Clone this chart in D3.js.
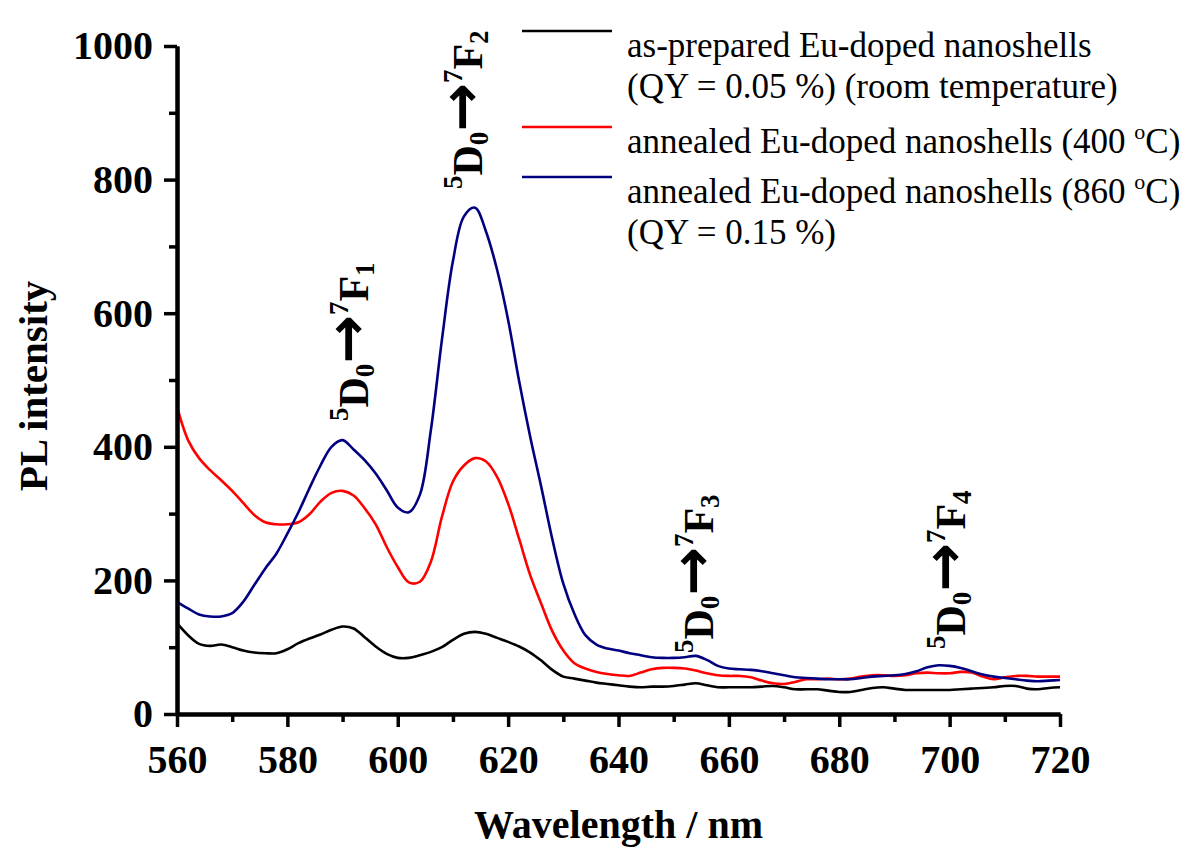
<!DOCTYPE html>
<html>
<head>
<meta charset="utf-8">
<script src="https://cdn.jsdelivr.net/npm/d3@7"></script>
<style>
  html, body { margin: 0; padding: 0; background: #fff; }
  svg { display: block; }
  text { font-family: "Liberation Serif", "Times New Roman", serif; fill: #000; }
</style>
</head>
<body>
<svg id="chart" width="1192" height="848"></svg>
<script>
// ---- data ----
const wavelengths = [560,562,564,566,568,570,572,574,576,578,580,582,584,586,588,590,592,594,596,598,
  600,602,604,606,608,610,612,614,616,618,620,622,624,626,628,630,632,634,636,638,
  640,642,644,646,648,650,652,654,656,658,660,662,664,666,668,670,672,674,676,678,
  680,682,684,686,688,690,692,694,696,698,700,702,704,706,708,710,712,714,716,718,720];

const asPrepared = [136,118,105,102,104,100,95,92,91,91,97,106,113,119,126,131,128,115,101,90,
  84,84,88,93,100,111,120,123,120,114,108,101,92,80,66,56,53,50,47,45,
  43,41,40,41,41,42,44,46,43,40,40,40,40,41,42,40,37,37,37,35,
  33,33,36,39,40,38,36,36,36,36,36,37,38,39,40,42,42,38,37,39,40];

const annealed400 = [460,410,383,365,350,334,316,298,287,284,284,287,299,318,331,334,327,308,284,250,
  220,197,198,228,295,348,372,383,378,355,315,262,208,165,124,95,76,68,63,60,
  58,57,62,67,69,69,68,65,61,58,57,57,55,50,46,45,48,52,52,53,
  52,53,56,58,58,57,58,61,62,61,61,63,62,56,52,55,57,57,56,56,56];

const annealed860 = [168,158,149,146,146,151,168,193,218,240,270,302,338,372,400,410,396,380,360,335,
  309,302,328,425,560,678,745,758,722,665,590,498,415,340,262,195,150,118,104,98,
  95,91,88,85,84,84,85,87,81,72,68,67,66,64,61,58,55,54,53,52,
  52,52,54,56,57,58,60,64,70,73,72,69,64,59,56,54,52,50,49,50,51];

const seriesColors = ["#000000", "#ff0000", "#000080"];
const seriesValues = [asPrepared, annealed400, annealed860];

const xMajorTicks = [560,580,600,620,640,660,680,700,720];
const xMinorTicks = [570,590,610,630,650,670,690,710];
const yMajorTicks = [0,200,400,600,800,1000];
const yMinorTicks = [100,300,500,700,900];

const xTitle = "Wavelength / nm";
const yTitle = "PL intensity";

const transitions = [
  { peak: "1", bx: 368, by: 421 },
  { peak: "2", bx: 482, by: 189 },
  { peak: "3", bx: 713, by: 653 },
  { peak: "4", bx: 965, by: 649 }
];

// ---- chart ----
const svg = d3.select("#chart");
const x = d3.scaleLinear().domain([560, 720]).range([177, 1060]);
const y = d3.scaleLinear().domain([0, 1000]).range([714, 46]);

const line = d3.line()
  .x((d, i) => x(wavelengths[i]))
  .y(d => y(d))
  .curve(d3.curveCatmullRom.alpha(0.5));

seriesValues.forEach((vals, k) => {
  svg.append("path")
    .datum(vals)
    .attr("d", line)
    .attr("fill", "none")
    .attr("stroke", seriesColors[k])
    .attr("stroke-width", 2.6)
    .attr("stroke-linejoin", "round");
});

function styleAxis(g) {
  g.select(".domain").attr("stroke", "#000").attr("stroke-width", 4);
  g.selectAll(".tick line").attr("stroke", "#000").attr("stroke-width", 3.5);
}

svg.append("g").attr("transform", `translate(0,${y(0)})`)
  .call(d3.axisBottom(x).tickValues(xMinorTicks).tickSize(8).tickSizeOuter(0).tickFormat(""))
  .call(styleAxis);
const xAxisMaj = svg.append("g").attr("transform", `translate(0,${y(0)})`)
  .call(d3.axisBottom(x).tickValues(xMajorTicks).tickSize(13).tickSizeOuter(0).tickPadding(18).tickFormat(d3.format("d")))
  .call(styleAxis);
xAxisMaj.selectAll(".tick text")
  .attr("font-size", 40).attr("font-weight", "bold")
  .attr("font-family", "Liberation Serif, serif")
  .attr("dy", "0.71em");

svg.append("g").attr("transform", `translate(${x(560)},0)`)
  .call(d3.axisLeft(y).tickValues(yMinorTicks).tickSize(8).tickSizeOuter(0).tickFormat(""))
  .call(styleAxis);
const yAxisMaj = svg.append("g").attr("transform", `translate(${x(560)},0)`)
  .call(d3.axisLeft(y).tickValues(yMajorTicks).tickSize(13).tickSizeOuter(0).tickPadding(11).tickFormat(d3.format("d")))
  .call(styleAxis);
yAxisMaj.selectAll(".tick text")
  .attr("font-size", 40).attr("font-weight", "bold")
  .attr("font-family", "Liberation Serif, serif");

svg.append("text")
  .attr("x", (x(560) + x(720)) / 2).attr("y", 838)
  .attr("text-anchor", "middle")
  .attr("font-size", 40).attr("font-weight", "bold")
  .text(xTitle);

svg.append("text")
  .attr("transform", `translate(47,${(y(0) + y(1000)) / 2 + 6}) rotate(-90)`)
  .attr("text-anchor", "middle")
  .attr("font-size", 41).attr("font-weight", "bold")
  .text(yTitle);

// transition annotations
transitions.forEach(t => {
  const txt = svg.append("text")
    .attr("transform", `translate(${t.bx},${t.by}) rotate(-90)`)
    .attr("font-weight", "bold");
  const parts = [
    { s: "5", fs: 27, dy: -20 },
    { s: "D", fs: 42, dy: 20 },
    { s: "0", fs: 27, dy: 6 },
    { s: "\u2192", fs: 58, dy: -7, ff: "DejaVu Sans" },
    { s: "7", fs: 27, dy: -19 },
    { s: "F", fs: 42, dy: 20 },
    { s: t.peak, fs: 27, dy: 6 }
  ];
  parts.forEach(p => {
    const ts = txt.append("tspan").attr("font-size", p.fs).attr("dy", p.dy).text(p.s);
    if (p.ff) ts.attr("font-family", p.ff).attr("font-weight", "bold");
  });
});

// legend
const legendRows = [
  { color: seriesColors[0], base: 43, parts: [["as-prepared Eu-doped nanoshells", false]] },
  { color: null, base: 84, parts: [["(QY = 0.05 %) (room temperature)", false]] },
  { color: seriesColors[1], base: 139, parts: [["annealed Eu-doped nanoshells (400 ", false], ["o", true], ["C)", false]] },
  { color: seriesColors[2], base: 189, parts: [["annealed Eu-doped nanoshells (860 ", false], ["o", true], ["C)", false]] },
  { color: null, base: 230, parts: [["(QY = 0.15 %)", false]] }
];
legendRows.forEach(r => {
  if (r.color) {
    svg.append("line")
      .attr("x1", 522).attr("x2", 612)
      .attr("y1", r.base - 12).attr("y2", r.base - 12)
      .attr("stroke", r.color).attr("stroke-width", 2.4);
  }
  const t = svg.append("text").attr("x", 627).attr("y", r.base).attr("font-size", 35);
  r.parts.forEach(([s, sup]) => {
    if (sup) {
      t.append("tspan").attr("font-size", 22).attr("dy", -14).text(s);
    } else {
      t.append("tspan").attr("font-size", 35).attr("dy", t.selectAll("tspan").size() > 0 ? 14 : 0).text(s);
    }
  });
});
</script>
</body>
</html>
